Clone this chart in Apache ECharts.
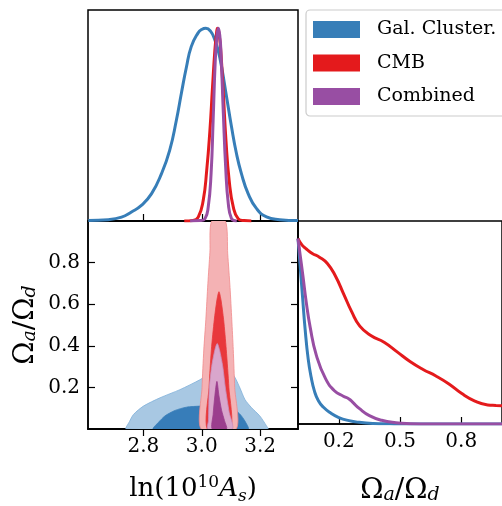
<!DOCTYPE html>
<html>
<head>
<meta charset="utf-8">
<script src="https://cdn.jsdelivr.net/npm/echarts@6/dist/echarts.min.js"></script>
<style>
html,body{margin:0;padding:0;background:#fff;}
#chart{width:502px;height:506px;}
</style>
</head>
<body>
<div id="chart"></div>
<script>
// ---------- DATA ----------
const seriesNames = ['Gal. Cluster.', 'CMB', 'Combined'];
const seriesColors = ['#377eb8', '#e41a1c', '#984ea3'];

const lnAsTicks = [2.8, 3.0, 3.2];
const ratioTicksY = [0.2, 0.4, 0.6, 0.8];
const ratioTicksX = [0.2, 0.5, 0.8];

// 1D marginal of ln(10^10 A_s)
const clusterAs = [[2.611,0.003],[2.679,0.007],[2.725,0.02],[2.759,0.047],[2.793,0.081],[2.828,0.142],[2.862,0.246],[2.890,0.367],[2.913,0.523],[2.930,0.662],[2.947,0.795],[2.964,0.905],[2.987,0.975],[3.0,0.994],[3.014,1.0],[3.03,0.985],[3.045,0.94],[3.057,0.88],[3.068,0.80],[3.085,0.645],[3.102,0.489],[3.119,0.35],[3.136,0.246],[3.159,0.142],[3.188,0.064],[3.222,0.021],[3.267,0.007],[3.33,0.002]];
const cmbAs = [[2.94,0],[2.97,0.003],[2.988,0.02],[3.005,0.107],[3.017,0.263],[3.028,0.471],[3.037,0.697],[3.045,0.887],[3.050,0.965],[3.054,1.0],[3.059,0.975],[3.065,0.887],[3.074,0.662],[3.083,0.419],[3.094,0.211],[3.108,0.073],[3.125,0.012],[3.145,0.002],[3.17,0]];
const combAs = [[2.96,0],[2.995,0.002],[3.011,0.012],[3.022,0.07],[3.032,0.246],[3.039,0.52],[3.046,0.82],[3.052,0.96],[3.057,1.0],[3.062,0.96],[3.066,0.87],[3.074,0.56],[3.082,0.28],[3.091,0.09],[3.102,0.012],[3.115,0.001],[3.12,0]];

// 1D marginal of Omega_a/Omega_d
const clusterRatio = [[0,1],[0.01,0.86],[0.022,0.69],[0.035,0.51],[0.05,0.35],[0.065,0.25],[0.08,0.18],[0.1,0.125],[0.125,0.09],[0.155,0.063],[0.2,0.035],[0.25,0.018],[0.3,0.009],[0.37,0.003],[0.45,0.001],[0.55,0],[1,0]];
const cmbRatio = [[0,1.0],[0.02,0.965],[0.041,0.944],[0.07,0.92],[0.105,0.9],[0.144,0.866],[0.184,0.797],[0.224,0.701],[0.263,0.606],[0.303,0.528],[0.359,0.476],[0.422,0.441],[0.486,0.389],[0.549,0.337],[0.613,0.294],[0.676,0.259],[0.740,0.216],[0.803,0.164],[0.867,0.124],[0.930,0.103],[0.971,0.10],[1.0,0.098]];
const combRatio = [[0,1],[0.012,0.9],[0.024,0.8],[0.04,0.66],[0.06,0.52],[0.09,0.37],[0.135,0.245],[0.18,0.178],[0.222,0.15],[0.25,0.135],[0.27,0.115],[0.30,0.084],[0.35,0.045],[0.41,0.02],[0.48,0.007],[0.55,0.002],[0.65,0],[1,0]];

// 2D contours (ln(10^10 A_s), Omega_a/Omega_d)
const clusterOuter = [[2.741,0],[2.752,0.035],[2.766,0.070],[2.800,0.110],[2.857,0.150],[2.925,0.189],[2.994,0.237],[3.039,0.276],[3.074,0.284],[3.108,0.260],[3.131,0.197],[3.148,0.142],[3.171,0.102],[3.199,0.063],[3.222,0.015],[3.227,0]];
const clusterInner = [[2.834,0],[2.851,0.031],[2.874,0.063],[2.908,0.089],[2.948,0.105],[2.994,0.110],[3.03,0.112],[3.07,0.108],[3.10,0.098],[3.119,0.086],[3.136,0.063],[3.151,0.031],[3.159,0]];
const cmbOuter = [[2.998,0],[3.001,0.2],[3.007,0.38],[3.014,0.525],[3.021,0.70],[3.028,0.85],[3.034,1.0],[3.081,1.0],[3.089,0.842],[3.097,0.68],[3.103,0.525],[3.108,0.382],[3.113,0.2],[3.118,0]];
const cmbInner = [[3.019,0],[3.025,0.2],[3.033,0.382],[3.043,0.525],[3.052,0.62],[3.059,0.66],[3.066,0.62],[3.075,0.525],[3.084,0.382],[3.093,0.2],[3.099,0]];
const combOuter = [[3.021,0],[3.023,0.04],[3.026,0.197],[3.034,0.3],[3.045,0.38],[3.053,0.411],[3.061,0.38],[3.072,0.3],[3.081,0.197],[3.094,0.08],[3.105,0]];
const combInner = [[3.036,0],[3.039,0.07],[3.045,0.16],[3.052,0.229],[3.059,0.16],[3.068,0.09],[3.078,0.04],[3.085,0]];

// ---------- CHART ----------
const FONT = 'DejaVu Serif';
const chart = echarts.init(document.getElementById('chart'), null, {renderer: 'canvas'});

function lineSeries(name, data, color, xi, yi, z) {
  return {
    type: 'line', name, data, xAxisIndex: xi, yAxisIndex: yi,
    showSymbol: false, symbol: 'none', smooth: 0.5,
    lineStyle: {color, width: 3}, itemStyle: {color}, z, silent: true, clip: true
  };
}
function contourSeries(name, pts, fill, stroke, z) {
  return {
    type: 'custom', name, xAxisIndex: 1, yAxisIndex: 1, coordinateSystem: 'cartesian2d',
    data: [pts[0]], clip: true, silent: true, z,
    renderItem: function (params, api) {
      return {
        type: 'polygon',
        shape: {points: pts.map(p => api.coord(p)), smooth: 0.25},
        style: {fill, stroke, lineWidth: 0.8}
      };
    }
  };
}

const axisLineStyle = {show: true, lineStyle: {color: '#000', width: 1.5}};
const tickStyle = (vals) => ({show: true, inside: true, length: 7, customValues: vals, lineStyle: {color: '#000', width: 1.2}});
const labelStyle = (vals) => ({show: true, customValues: vals, color: '#000', fontFamily: FONT, fontSize: 20, margin: 8,
  formatter: v => Number(v).toFixed(1)});
const subStyle = {fontFamily: FONT, fontSize: 19, fontStyle: 'italic', verticalAlign: 'bottom', color: '#000', padding: [9,0,0,0]};

const option = {
  animation: false,
  backgroundColor: '#fff',
  grid: [
    {left: 88, top: 10, width: 210, height: 211, show: true, borderColor: '#000', borderWidth: 1.5, backgroundColor: 'transparent'},
    {left: 88, top: 221, width: 210, height: 210.5, show: true, borderColor: '#000', borderWidth: 1.5, backgroundColor: 'transparent'},
    {left: 298, top: 221, width: 210, height: 210.5, show: true, borderColor: '#000', borderWidth: 1.5, backgroundColor: 'transparent'}
  ],
  xAxis: [
    {type: 'value', gridIndex: 0, min: 2.61, max: 3.33, axisLine: axisLineStyle, axisTick: tickStyle(lnAsTicks), axisLabel: {show: false}, splitLine: {show: false}},
    {type: 'value', gridIndex: 1, min: 2.61, max: 3.33, axisLine: axisLineStyle, axisTick: tickStyle(lnAsTicks), axisLabel: labelStyle(lnAsTicks), splitLine: {show: false},
      name: 'ln(10{sup|10}{i|A}{sub|s})', nameLocation: 'middle', nameGap: 45,
      nameTextStyle: {color: '#000', fontFamily: FONT, fontSize: 26,
        rich: {sup: {fontFamily: FONT, fontSize: 17, verticalAlign: 'top', color: '#000', padding: [0,0,14,0]},
               i: {fontFamily: FONT, fontSize: 26, fontStyle: 'italic', color: '#000'},
               sub: {fontFamily: FONT, fontSize: 17, fontStyle: 'italic', verticalAlign: 'bottom', color: '#000', padding: [8,0,0,0]}}}},
    {type: 'value', gridIndex: 1, position: 'top', min: 2.61, max: 3.33, axisLine: axisLineStyle, axisTick: tickStyle(lnAsTicks), axisLabel: {show: false}, splitLine: {show: false}},
    {type: 'value', gridIndex: 2, min: 0, max: 1, axisLine: axisLineStyle, axisTick: tickStyle(ratioTicksX), axisLabel: labelStyle(ratioTicksX), splitLine: {show: false},
      name: 'Ω{sub|a}/Ω{sub|d}', nameLocation: 'middle', nameGap: 53,
      nameTextStyle: {color: '#000', fontFamily: FONT, fontSize: 28, rich: {sub: subStyle}}}
  ],
  yAxis: [
    {type: 'value', gridIndex: 0, min: 0, max: 1.095, show: false},
    {type: 'value', gridIndex: 1, min: 0, max: 1, axisLine: axisLineStyle, axisTick: tickStyle(ratioTicksY), axisLabel: labelStyle(ratioTicksY), splitLine: {show: false},
      name: 'Ω{sub|a}/Ω{sub|d}', nameLocation: 'middle', nameGap: 48, nameRotate: 90,
      nameTextStyle: {color: '#000', fontFamily: FONT, fontSize: 28, rich: {sub: subStyle}}},
    {type: 'value', gridIndex: 1, position: 'right', min: 0, max: 1, axisLine: axisLineStyle, axisTick: tickStyle(ratioTicksY), axisLabel: {show: false}, splitLine: {show: false}},
    {type: 'value', gridIndex: 2, min: 0, max: 1.095, show: false}
  ],
  legend: {
    orient: 'vertical', left: 306, top: 10,
    padding: [10, 30, 10, 7], itemGap: 14.5, itemWidth: 47, itemHeight: 17,
    icon: 'rect', selectedMode: false,
    borderColor: '#cccccc', borderWidth: 1.2, borderRadius: 4, backgroundColor: '#fff',
    textStyle: {color: '#000', fontFamily: FONT, fontSize: 19, padding: [0, 0, 0, 12]},
    data: seriesNames.map((n, i) => ({name: n, icon: 'rect', itemStyle: {color: seriesColors[i], borderWidth: 0}}))
  },
  series: [
    lineSeries(seriesNames[0], clusterAs, seriesColors[0], 0, 0, 3),
    lineSeries(seriesNames[1], cmbAs, seriesColors[1], 0, 0, 4),
    lineSeries(seriesNames[2], combAs, seriesColors[2], 0, 0, 5),
    contourSeries(seriesNames[0], clusterOuter, '#a8c8e3', '#7fb0d9', 3),
    contourSeries(seriesNames[0], clusterInner, '#377db9', '#377db9', 3),
    contourSeries(seriesNames[1], cmbOuter, '#f4b2b4', '#f08a8c', 4),
    contourSeries(seriesNames[1], cmbInner, '#e8383c', '#e8383c', 4),
    contourSeries(seriesNames[2], combOuter, '#d9a6cc', '#c98fbd', 5),
    contourSeries(seriesNames[2], combInner, '#9b3e8d', '#9b3e8d', 5),
    lineSeries(seriesNames[0], clusterRatio, seriesColors[0], 3, 3, 3),
    lineSeries(seriesNames[1], cmbRatio, seriesColors[1], 3, 3, 4),
    lineSeries(seriesNames[2], combRatio, seriesColors[2], 3, 3, 5)
  ]
};
chart.setOption(option);
</script>
</body>
</html>
